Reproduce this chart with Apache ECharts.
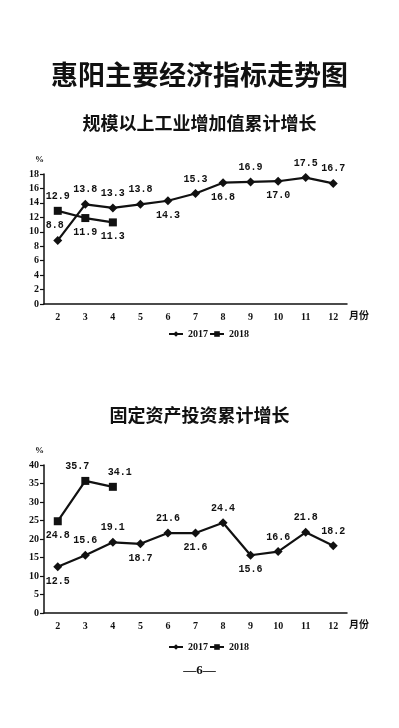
<!DOCTYPE html>
<html lang="zh">
<head>
    <meta charset="UTF-8">
    <title>惠阳主要经济指标走势图</title>
    <script src="https://cdn.jsdelivr.net/npm/echarts@6/dist/echarts.min.js"></script>
    <style>
        html, body { margin: 0; padding: 0; background: #fff; }
        #main { width: 399px; height: 728px; }
    </style>
</head>
<body>
<div id="main"></div>
<script>
    // 月份
    var months = ['2', '3', '4', '5', '6', '7', '8', '9', '10', '11', '12'];

    // 规模以上工业增加值累计增长 (%)
    var ind2017 = [8.8, 13.8, 13.3, 13.8, 14.3, 15.3, 16.8, 16.9, 17.0, 17.5, 16.7];
    var ind2018 = [12.9, 11.9, 11.3];

    // 固定资产投资累计增长 (%)
    var inv2017 = [12.5, 15.6, 19.1, 18.7, 21.6, 21.6, 24.4, 15.6, 16.6, 21.8, 18.2];
    var inv2018 = [24.8, 35.7, 34.1];

    // 标签摆放 (t = 上, b = 下)
    var indPos2017 = ['t', 't', 't', 't', 'b', 't', 'b', 't', 'b', 't', 't'];
    var indPos2018 = ['t', 'b', 'b'];
    var invPos2017 = ['b', 't', 't', 'b', 't', 'b', 't', 'b', 't', 't', 't'];
    var invPos2018 = ['b', 't', 't'];

    var labelFont = {
        color: '#111',
        fontFamily: 'Liberation Mono',
        fontWeight: 'bold',
        fontSize: 10
    };

    function mkData(vals, pos, offsets) {
        var out = [];
        for (var i = 0; i < vals.length; i++) {
            var item = {value: vals[i], label: {position: pos[i] == 't' ? 'top' : 'bottom'}};
            if (offsets && offsets[i]) {
                item.label.offset = offsets[i];
            }
            out.push(item);
        }
        return out;
    }

    function mkSeries(name, idx, vals, pos, symbol, offsets) {
        return {
            name: name,
            type: 'line',
            xAxisIndex: idx,
            yAxisIndex: idx,
            symbol: symbol,
            symbolSize: symbol == 'diamond' ? 9 : 8,
            itemStyle: {color: '#111'},
            lineStyle: {color: '#111', width: 2.2},
            label: Object.assign({show: true, distance: 5, formatter: function (p) {
                return p.value.toFixed(1);
            }}, labelFont),
            data: mkData(vals, pos, offsets),
            z: 3
        };
    }

    function xAx(idx) {
        return {
            type: 'category',
            gridIndex: idx,
            data: months,
            boundaryGap: true,
            name: '月份',
            nameLocation: 'end',
            nameGap: 2,
            nameTextStyle: {
                color: '#111', fontFamily: 'Noto Sans CJK SC', fontWeight: 'bold', fontSize: 10,
                verticalAlign: 'top', padding: [6, 0, 0, 0]
            },
            axisLine: {lineStyle: {color: '#111', width: 1.5}},
            axisTick: {inside: true, length: 4, lineStyle: {color: '#111', width: 1.2}},
            axisLabel: {color: '#111', fontFamily: 'Liberation Serif', fontWeight: 'bold', fontSize: 10, margin: 8},
            splitLine: {show: false}
        };
    }

    function yAx(idx, max, step) {
        return {
            type: 'value',
            gridIndex: idx,
            min: 0,
            max: max,
            interval: step,
            name: '%',
            nameLocation: 'end',
            nameGap: 10,
            nameTextStyle: {
                color: '#111', fontFamily: 'Liberation Serif', fontWeight: 'bold', fontSize: 9,
                align: 'right', padding: [0, 0, 0, 0]
            },
            axisLine: {show: true, lineStyle: {color: '#111', width: 1.5}},
            axisTick: {show: true, length: 4, lineStyle: {color: '#111', width: 1.2}},
            axisLabel: {color: '#111', fontFamily: 'Liberation Serif', fontWeight: 'bold', fontSize: 10, margin: 5},
            splitLine: {show: false}
        };
    }

    var legendText = {color: '#111', fontFamily: 'Liberation Serif', fontWeight: 'bold', fontSize: 10};

    var myChart = echarts.init(document.getElementById('main'));
    var option = {
        backgroundColor: '#fff',
        animation: false,
        title: [
            {
                text: '惠阳主要经济指标走势图',
                left: 'center', top: 56,
                textStyle: {color: '#111', fontFamily: 'Noto Sans CJK SC', fontWeight: 'bold', fontSize: 27}
            },
            {
                text: '规模以上工业增加值累计增长',
                left: 'center', top: 109,
                textStyle: {color: '#111', fontFamily: 'Noto Sans CJK SC', fontWeight: 'bold', fontSize: 18}
            },
            {
                text: '固定资产投资累计增长',
                left: 'center', top: 401,
                textStyle: {color: '#111', fontFamily: 'Noto Sans CJK SC', fontWeight: 'bold', fontSize: 18}
            },
            {
                text: '—6—',
                left: 'center', top: 659,
                textStyle: {color: '#111', fontFamily: 'Liberation Serif', fontWeight: 'bold', fontSize: 13}
            }
        ],
        legend: [
            {
                data: ['2017', '2018'],
                left: 163, top: 324,
                itemWidth: 14, itemHeight: 7, itemGap: 1,
                textStyle: legendText,
                selectedMode: false
            },
            {
                data: ['2017', '2018'],
                left: 163, top: 637,
                itemWidth: 14, itemHeight: 7, itemGap: 1,
                textStyle: legendText,
                selectedMode: false
            }
        ],
        grid: [
            {left: 44, top: 174, width: 303, height: 130},
            {left: 44, top: 465, width: 303, height: 148}
        ],
        xAxis: [xAx(0), xAx(1)],
        yAxis: [yAx(0, 18, 2), yAx(1, 40, 5)],
        series: [
            mkSeries('2017', 0, ind2017, indPos2017, 'diamond', [[-3, 0]]),
            mkSeries('2018', 0, ind2018, indPos2018, 'rect'),
            mkSeries('2017', 1, inv2017, invPos2017, 'diamond'),
            mkSeries('2018', 1, inv2018, invPos2018, 'rect', [null, [-8, 0], [7, 0]])
        ]
    };
    myChart.setOption(option);
</script>
</body>
</html>
